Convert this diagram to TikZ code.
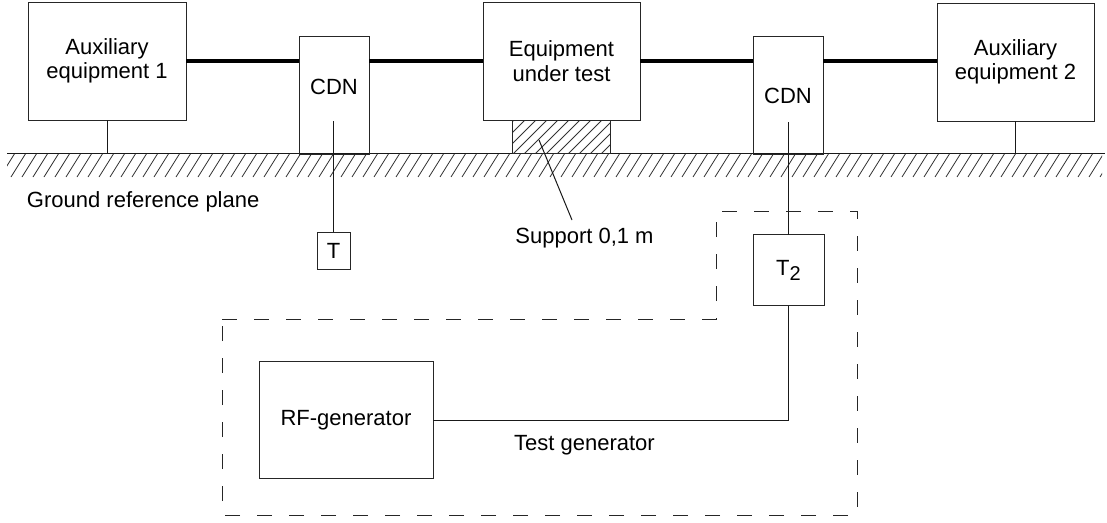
\documentclass[tikz,border=0pt]{standalone}
\usepackage{fontspec}
\setmainfont{Liberation Sans}
\usetikzlibrary{calc}
\begin{document}
\begin{tikzpicture}[x=1pt,y=-1pt,
  every node/.style={inner sep=0pt,outer sep=0pt,font=\fontsize{22}{24.5}\selectfont},
  box/.style={draw=black!85,line width=1pt,rectangle,align=center},
  txt/.style={align=center},
  thickwire/.style={line width=4.5pt,black},
  wire/.style={line width=1pt,black!90},
  hatch/.style={line width=0.8pt,black!80},
  dashedbox/.style={line width=1pt,black!85,dash pattern=on 15pt off 17pt}]
\useasboundingbox (0,0) rectangle (1107,522);

% ground plane hatching
\begin{scope}
  \clip (7,153) rectangle (1102,178);
  \foreach \x in {0,11,...,1120} \draw[hatch] (\x,177) -- ++(15,-24);
\end{scope}
\coordinate (gl) at (7,153);
\coordinate (gr) at (1105,153);
\draw[wire] (gl) -- (gr);

% boxes
\node[box,minimum width=158pt,minimum height=118pt] (aux1) at (107,61) {Auxiliary\\equipment 1};
\node[box,minimum width=70pt,minimum height=118pt] (cdn1) at (334,95) {};
\node[txt] (cdn1t) at (334,87) {CDN};
\node[box,minimum width=157pt,minimum height=118pt] (eut) at (561.5,61) {Equipment\\under test};
\node[box,minimum width=70pt,minimum height=118pt] (cdn2) at (788,95) {};
\node[txt] (cdn2t) at (788,96) {CDN};
\node[box,minimum width=157pt,minimum height=118pt] (aux2) at (1015.5,62) {Auxiliary\\equipment 2};

% support with hatching
\node[box,minimum width=98pt,minimum height=33pt] (sup) at (561,137) {};
\begin{scope}
  \clip (sup.north west) rectangle (sup.south east);
  \foreach \x in {480,491,...,620} \draw[hatch] (\x,154) -- ++(34,-34);
\end{scope}
\draw[box] (sup.north west) rectangle (sup.south east);

% thick cables
\draw[thickwire] (aux1.east) -- (aux1.east -| cdn1.west);
\draw[thickwire] (cdn1.east |- eut.west) -- (eut.west);
\draw[thickwire] (eut.east) -- (eut.east -| cdn2.west);
\draw[thickwire] (cdn2.east |- eut.east) -- (aux2.west |- eut.east);

% ground stubs
\draw[wire] (aux1.south) -- (aux1.south |- gl);
\draw[wire] (aux2.south) -- (aux2.south |- gl);

% labels
\node[anchor=west] (grp) at (27,202) {Ground reference plane};
\node (supt) at (584.5,238) {Support 0,1 m};
\coordinate (lead1) at (539,140);
\coordinate (lead2) at (572,220);
\draw[wire] (lead1) -- (lead2);

% terminations
\node[box,minimum width=33pt,minimum height=37pt] (t1) at (333.5,250.5) {T};
\coordinate (c1) at (333.5,121);
\draw[wire] (c1) -- (t1.north);

\node[box,minimum width=71pt,minimum height=71pt] (t2) at (788.5,270) {T{\fontsize{20}{20}\selectfont\raisebox{-5pt}{2}}};
\coordinate (c2) at (788.5,122);
\draw[wire] (c2) -- (t2.north);

% test generator
\node[box,minimum width=174pt,minimum height=117pt] (rf) at (346,420) {RF-generator};
\draw[wire] (t2.south) -- (t2.south |- rf.east) -- (rf.east);
\node (tg) at (584.5,445) {Test generator};

\draw[dashedbox] (222,319) -- (716,319) -- (716,211) -- (857,211) -- (857,515) -- (222,515) -- cycle;
\end{tikzpicture}
\end{document}
